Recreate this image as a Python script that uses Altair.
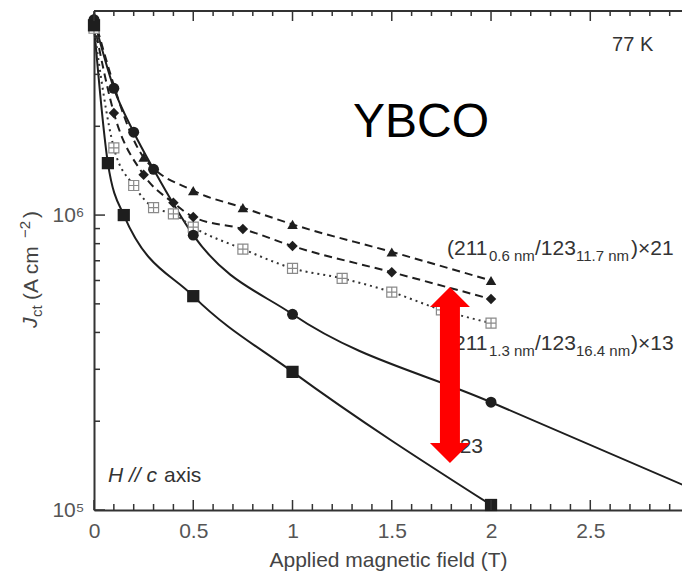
import altair as alt
import pandas as pd

# ---------------- data ----------------
# 123 (filled squares, solid)
sq_x = [0, 0.07, 0.15, 0.5, 1.0, 2.0]
sq_y = [4.4e6, 1.5e6, 1.0e6, 5.31e5, 2.94e5, 1.04e5]

# (211 1.3nm / 123 16.4nm) x13  (filled circles, solid)
ci_x = [0, 0.1, 0.2, 0.3, 0.5, 1.0, 2.0, 3.0]
ci_y = [4.6e6, 2.69e6, 1.91e6, 1.43e6, 8.55e5, 4.61e5, 2.32e5, 1.19e5]
ci_mark = [True, True, True, True, True, True, True, False]

# (211 0.6nm / 123 11.7nm) x21  (triangles, dashed)
tr_x = [0, 0.25, 0.5, 0.75, 1.0, 1.5, 2.0]
tr_y = [4.7e6, 1.57e6, 1.21e6, 1.06e6, 9.3e5, 7.5e5, 6.0e5]

# diamonds, dashed
di_x = [0, 0.1, 0.25, 0.4, 0.5, 0.75, 1.0, 1.5, 2.0]
di_y = [4.5e6, 2.22e6, 1.37e6, 1.10e6, 9.85e5, 8.97e5, 7.85e5, 6.4e5, 5.19e5]

# open crossed squares, dotted
os_x = [0, 0.1, 0.2, 0.3, 0.4, 0.5, 0.75, 1.0, 1.25, 1.5, 1.75, 2.0]
os_y = [4.3e6, 1.69e6, 1.26e6, 1.06e6, 1.01e6, 9.1e5, 7.67e5, 6.6e5, 6.1e5, 5.48e5, 4.77e5, 4.3e5]

x_major = [0, 0.5, 1.0, 1.5, 2.0, 2.5]
x_minor = [round(0.1 * i, 1) for i in range(1, 30) if i % 5 != 0]
y_major = [1e5, 1e6]
y_minor = [2e5, 3e5, 4e5, 5e5, 6e5, 7e5, 8e5, 9e5, 2e6, 3e6, 4e6]

# arrow end points (data units)
arrow_x = [1.793]
arrow_top = [4.88e5]
arrow_bot = [1.687e5]

# ---------------- layout ----------------
W, H = 588, 499
PADL, PADT = 94, 11
xs = alt.Scale(domain=[0, 2.962], nice=False, zero=False)
ys = alt.Scale(type="log", domain=[1e5, 4.92e6], nice=False)
FONT = "Liberation Sans"
LINE = "#1e1e1e"

xaxis = alt.Axis(values=x_major, format="~g", ticks=False, grid=False, domainColor="#333",
                 domainWidth=2, labelFontSize=21, labelColor="#555", labelFont=FONT,
                 labelPadding=10, labelFlush=False, title="Applied magnetic field (T)",
                 titleFont=FONT, titleFontSize=21, titleFontWeight="normal",
                 titleColor="#444", titlePadding=8)
yaxis = alt.Axis(values=y_major, ticks=False, grid=False, domainColor="#333", domainWidth=2,
                 labelFontSize=21, labelColor="#555", labelFont=FONT, labelPadding=10,
                 labelFlush=False,
                 labelExpr="datum.value == 1000000 ? '10⁶' : (datum.value == 100000 ? '10⁵' : '')",
                 title=None)


def X(field="x"):
    return alt.X(f"{field}:Q", scale=xs, axis=xaxis)


def Y(field="y"):
    return alt.Y(f"{field}:Q", scale=ys, axis=yaxis)


def df(x, y, **extra):
    d = {"x": x, "y": y}
    d.update(extra)
    return pd.DataFrame(d)


layers = []

# ---- lines ----
d_sq = df(sq_x, sq_y)
d_ci = df(ci_x, ci_y, m=ci_mark)
d_tr = df(tr_x, tr_y)
d_di = df(di_x, di_y)
d_os = df(os_x, os_y)

layers.append(alt.Chart(d_sq).mark_line(color=LINE, strokeWidth=2, interpolate="monotone")
              .encode(x=X(), y=Y()))
layers.append(alt.Chart(d_ci).mark_line(color=LINE, strokeWidth=2, interpolate="monotone")
              .encode(x=X(), y=Y()))
layers.append(alt.Chart(d_tr).mark_line(color=LINE, strokeWidth=2, strokeDash=[8, 5],
                                        interpolate="monotone").encode(x=X(), y=Y()))
layers.append(alt.Chart(d_di).mark_line(color=LINE, strokeWidth=2, strokeDash=[8, 5],
                                        interpolate="monotone").encode(x=X(), y=Y()))
layers.append(alt.Chart(d_os).mark_line(color="#333", strokeWidth=2, strokeDash=[2, 4],
                                        interpolate="monotone").encode(x=X(), y=Y()))

# ---- markers ----
layers.append(alt.Chart(d_os).mark_point(shape="M-1,-1H1V1H-1Z M0,-1V1 M-1,0H1", size=100,
                                         filled=True, fill="white", stroke="#8a8a8a",
                                         strokeWidth=1.2, opacity=1).encode(x=X(), y=Y()))
layers.append(alt.Chart(d_tr).mark_point(shape="triangle-up", size=110, filled=True,
                                         color=LINE, opacity=1).encode(x=X(), y=Y()))
layers.append(alt.Chart(d_di).mark_point(shape="diamond", size=110, filled=True,
                                         color=LINE, opacity=1).encode(x=X(), y=Y()))
layers.append(alt.Chart(d_ci).transform_filter("datum.m").mark_point(
    shape="circle", size=120, filled=True, color=LINE, opacity=1).encode(x=X(), y=Y()))
layers.append(alt.Chart(d_sq).mark_point(shape="square", size=150, filled=True,
                                         color=LINE, opacity=1).encode(x=X(), y=Y()))

# ---- inward tick marks ----
tick_col = "#333"
layers.append(alt.Chart(pd.DataFrame({"x": x_minor})).mark_rule(color=tick_col, strokeWidth=1.5)
              .encode(x=X(), y=alt.value(H), y2=alt.value(H - 6)))
layers.append(alt.Chart(pd.DataFrame({"x": x_major})).mark_rule(color=tick_col, strokeWidth=1.5)
              .encode(x=X(), y=alt.value(H), y2=alt.value(H - 10)))
layers.append(alt.Chart(pd.DataFrame({"x": x_minor})).mark_rule(color=tick_col, strokeWidth=1.5)
              .encode(x=X(), y=alt.value(0), y2=alt.value(5)))
layers.append(alt.Chart(pd.DataFrame({"x": x_major})).mark_rule(color=tick_col, strokeWidth=1.5)
              .encode(x=X(), y=alt.value(0), y2=alt.value(10)))
layers.append(alt.Chart(pd.DataFrame({"y": y_minor})).mark_rule(color=tick_col, strokeWidth=1.5)
              .encode(y=Y(), x=alt.value(0), x2=alt.value(6)))
layers.append(alt.Chart(pd.DataFrame({"y": y_major})).mark_rule(color=tick_col, strokeWidth=1.5)
              .encode(y=Y(), x=alt.value(0), x2=alt.value(11)))
# top frame line
layers.append(alt.Chart(pd.DataFrame({"x": [0]})).mark_rule(color="#333", strokeWidth=2)
              .encode(x=alt.value(0), x2=alt.value(W), y=alt.value(0)))


# ---- annotation text ----
def txt(x, y, s, size, dx=0, dy=0, italic=False, color="#333", baseline="alphabetic"):
    return alt.Chart(pd.DataFrame({"x": [x], "y": [y], "t": [s]})).mark_text(
        font=FONT, fontSize=size, fontStyle="italic" if italic else "normal", color=color,
        align="left", baseline=baseline, dx=dx, dy=dy).encode(x=X(), y=Y(), text="t:N")


def vtxt(px, py, s, size, italic=False, color="#444"):
    # rotated text, position in pixels relative to plot origin
    return alt.Chart(pd.DataFrame({"t": [s]})).mark_text(
        font=FONT, fontSize=size, fontStyle="italic" if italic else "normal", color=color,
        align="left", baseline="middle", angle=270).encode(
        x=alt.value(px - PADL), y=alt.value(py - PADT), text="t:N")


lab1 = [("(211", 21, 0, 0), ("0.6 nm", 15, 42, 6), ("/123", 21, 88, 0),
        ("11.7 nm", 15, 129, 6), (")×21", 21, 184, 0)]
lab2 = [("(211", 21, 0, 0), ("1.3 nm", 15, 42, 6), ("/123", 21, 88, 0),
        ("16.4 nm", 15, 129, 6), (")×13", 21, 184, 0)]
for s, size, dx, dy in lab1:
    layers.append(txt(1.778, 7.32e5, s, size, dx=dx, dy=dy))
for s, size, dx, dy in lab2:
    layers.append(txt(1.778, 3.49e5, s, size, dx=dx, dy=dy))
layers.append(txt(1.783, 1.56e5, "123", 21))
layers.append(txt(2.61, 3.6e6, "77 K", 20))
layers.append(txt(1.305, 1.84e6, "YBCO", 48, color="#000"))
layers.append(txt(0.0705, 1.244e5, "H // c", 21, italic=True))
layers.append(txt(0.0705, 1.244e5, "axis", 21, dx=56))

# y-axis title built from pieces (J_ct (A cm^-2))
layers.append(vtxt(31, 328, "J", 21, italic=True))
layers.append(vtxt(37, 317, "ct", 15))
layers.append(vtxt(32, 300, "(A cm", 21))
layers.append(vtxt(25, 238, "−2", 15))
layers.append(vtxt(32, 218, ")", 21))

# ---- red double arrow ----
d_ar = pd.DataFrame({"x": arrow_x, "y": arrow_top, "y2": arrow_bot})
RED = "#ff0000"
layers.append(alt.Chart(d_ar).mark_rule(color=RED, strokeWidth=20, strokeCap="butt")
              .encode(x=X(), y=Y(), y2="y2:Q"))
layers.append(alt.Chart(d_ar).mark_point(shape="M-1,0L1,0L0,-1Z", size=1600, filled=True,
                                         color=RED, opacity=1)
              .encode(x=X(), y=Y()))
layers.append(alt.Chart(d_ar).mark_point(shape="M-1,0L1,0L0,1Z", size=1600, filled=True,
                                         color=RED, opacity=1)
              .encode(x=X(), y=Y("y2")))

chart = alt.layer(*layers).properties(
    width=W, height=H,
    autosize=alt.AutoSizeParams(type="none"),
    padding={"left": PADL, "top": PADT, "right": 0, "bottom": 576 - PADT - H},
    background="white",
).configure_view(stroke=None)

chart.save("out.html", embed_options={"renderer": "svg", "actions": False})
